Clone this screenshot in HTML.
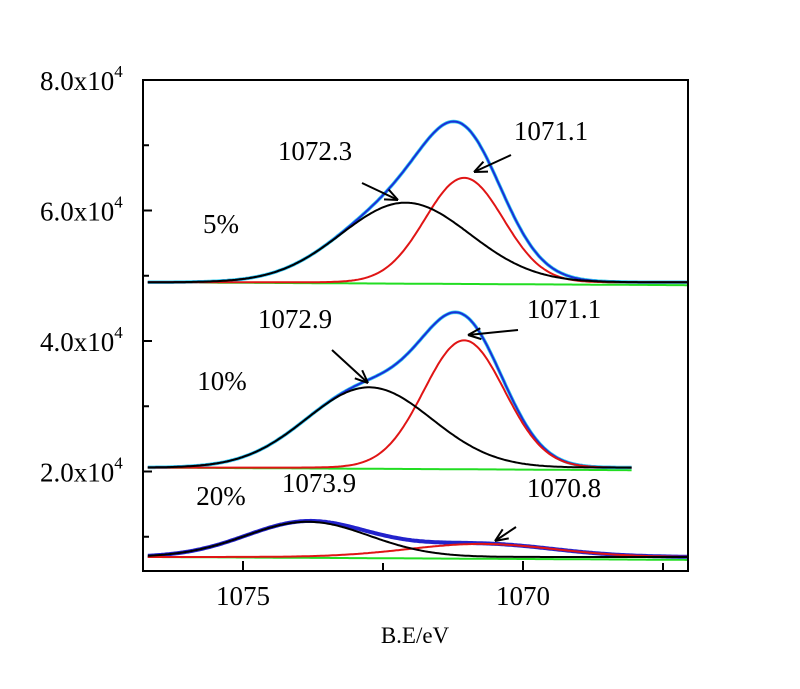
<!DOCTYPE html>
<html><head><meta charset="utf-8"><style>
body{margin:0;background:#fff;}
svg text{font-family:"Liberation Serif",serif;fill:#000;}
</style></head><body>
<svg id="chart" width="800" height="684" viewBox="0 0 800 684"></svg>
<script>
// Data
const yTickValues=[20000,40000,60000,80000];
const yTickLabels=["2.0x10","4.0x10","6.0x10","8.0x10"];
const yMinorValues=[10000,30000,50000,70000];
const xTickValues=[1075,1070];
const xMinorValues=[1072.5,1067.5];
const seriesNames=["5%","10%","20%"];
const baselines=[49000,20600,6900];
const blackCenters=[1072.1,1072.75,1073.85];
const blackAmps=[12200,12300,5400];
const blackSigmas=[1.15,1.12,1.1];
const redCenters=[1071.05,1071.05,1070.75];
const redAmps=[16000,19500,2000];
const redSigmas=[0.7,0.72,1.3];
const xStarts=[1076.7,1076.7,1076.7];
const xEnds=[1067.05,1068.05,1067.05];
const peakLabels=[["1072.3","1071.1"],["1072.9","1071.1"],["1073.9","1070.8"]];

const svg=document.getElementById('chart');
const NS='http://www.w3.org/2000/svg';
const L=143,R=688,T=80,B=571;
function X(e){return 243+(1075-e)*56;}
function Y(v){return 80+(80000-v)/20000*130.5;}
function mk(tag,attrs,name){const el=document.createElementNS(NS,tag);for(const k in attrs)el.setAttribute(k,attrs[k]);


svg.appendChild(el);return el;}
function g(x,c,a,s){return a*Math.exp(-((x-c)*(x-c))/(2*s*s));}

const clip=mk('clipPath',{id:'pc'},'plot-clip');
const cr=document.createElementNS(NS,'rect');cr.setAttribute('x',L);cr.setAttribute('y',T);cr.setAttribute('width',R-L);cr.setAttribute('height',B-T);clip.appendChild(cr);

for(let i=0;i<3;i++){
  const pts={b:[],r:[],s:[],gr:[]};
  for(let e=xStarts[i];e>=xEnds[i];e-=0.03){
    const base=baselines[i];
    const gb=g(e,blackCenters[i],blackAmps[i],blackSigmas[i]);
    const gr=g(e,redCenters[i],redAmps[i],redSigmas[i]);
    const x=X(e).toFixed(1);
    pts.b.push(x+','+Y(base+gb).toFixed(1));
    pts.r.push(x+','+Y(base+gr).toFixed(1));
    pts.s.push(x+','+Y(base+gb+gr).toFixed(1));
    pts.gr.push(x+','+(Y(base)+ (1076.7-e)*0.3).toFixed(1));
  }
  const p={'clip-path':'url(#pc)',fill:'none'};
  mk('polyline',Object.assign({points:pts.gr.join(' '),stroke:'#22dd22','stroke-width':2},p),'baseline-'+i);
  mk('polyline',Object.assign({points:pts.s.join(' '),stroke:i==2?'#2222cc':'#33ccee','stroke-width':i==2?4:3.5},p),'raw-data-'+i);
  if(i<2) mk('polyline',Object.assign({points:pts.s.join(' '),stroke:'#1a2fd8','stroke-width':2},p),'fit-envelope-'+i);
  mk('polyline',Object.assign({points:pts.r.join(' '),stroke:'#e01515','stroke-width':2},p),'red-component-'+i);
  mk('polyline',Object.assign({points:pts.b.join(' '),stroke:'#000','stroke-width':2},p),'black-component-'+i);
}

mk('rect',{x:L,y:T,width:R-L,height:B-T,fill:'none',stroke:'#000','stroke-width':2},'plot-frame');
yTickValues.forEach((v,i)=>{
  mk('line',{x1:L,x2:L+9,y1:Y(v),y2:Y(v),stroke:'#000','stroke-width':2},'y-tick');
  const t=mk('text',{x:40,y:Y(v)+10,'font-size':27},'y-tick-label');
  t.textContent=yTickLabels[i];
  const s=document.createElementNS(NS,'tspan');s.setAttribute('dy','-13');s.setAttribute('font-size','17');s.textContent='4';t.appendChild(s);
});
yMinorValues.forEach(v=>mk('line',{x1:L,x2:L+6,y1:Y(v),y2:Y(v),stroke:'#000','stroke-width':2},'y-minor-tick'));
xTickValues.forEach(v=>{
  mk('line',{x1:X(v),x2:X(v),y1:B,y2:B-10,stroke:'#000','stroke-width':2},'x-tick');
  const t=mk('text',{x:X(v),y:605,'text-anchor':'middle','font-size':27},'x-tick-label');t.textContent=v;
});
xMinorValues.forEach(v=>mk('line',{x1:X(v),x2:X(v),y1:B,y2:B-8,stroke:'#000','stroke-width':2},'x-minor-tick'));
const xt=mk('text',{x:415,y:643,'text-anchor':'middle','font-size':23},'x-axis-title');xt.textContent='B.E/eV';

const labPos=[[[315,160],[551,140]],[[295,328],[564,318]],[[319,492],[564,497]]];
const serPos=[[221,233],[222,390],[221,505]];
for(let i=0;i<3;i++){
  const s=mk('text',{x:serPos[i][0],y:serPos[i][1],'text-anchor':'middle','font-size':27},'series-label');s.textContent=seriesNames[i];
  for(let j=0;j<2;j++){const t=mk('text',{x:labPos[i][j][0],y:labPos[i][j][1],'text-anchor':'middle','font-size':27},'peak-label');t.textContent=peakLabels[i][j];}
}
function arrow(x1,y1,x2,y2){
  mk('line',{x1:x1,y1:y1,x2:x2,y2:y2,stroke:'#000','stroke-width':2},'arrow-shaft');
  const a=Math.atan2(y2-y1,x2-x1),h=14;
  [0.4,-0.4].forEach(d=>mk('line',{x1:x2,y1:y2,x2:x2-h*Math.cos(a+d),y2:y2-h*Math.sin(a+d),stroke:'#000','stroke-width':2},'arrow-head'));
}
arrow(362,183,398,200);arrow(511,155,474,172);arrow(332,350,368,383);arrow(518,330,468,335);arrow(516,527,495,541);
</script>
</body></html>
